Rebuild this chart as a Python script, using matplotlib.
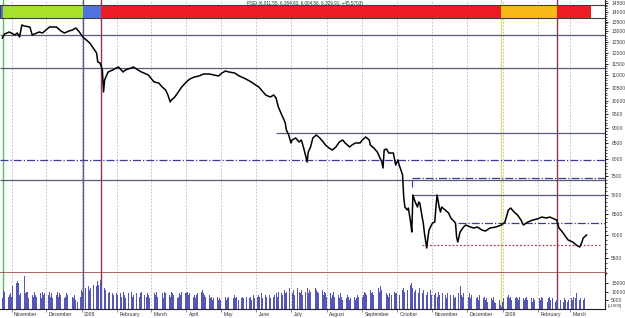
import numpy as np
import pandas as pd
import matplotlib
matplotlib.use("Agg")
import matplotlib.pyplot as plt
import matplotlib.dates as mdates
from matplotlib.ticker import FixedLocator, NullFormatter, FuncFormatter
from matplotlib.patches import Rectangle
from matplotlib.transforms import ScaledTranslation

# ---------------- data ----------------
price_dates = [
 "2007-10-24","2007-10-26","2007-10-30","2007-11-04","2007-11-06","2007-11-08","2007-11-10","2007-11-12",
 "2007-11-17","2007-11-19","2007-11-23","2007-11-25","2007-11-28","2007-12-04","2007-12-10","2007-12-14",
 "2007-12-17","2007-12-21","2007-12-24","2007-12-27","2007-12-30","2008-01-02","2008-01-05","2008-01-08",
 "2008-01-11","2008-01-14","2008-01-15","2008-01-17","2008-01-19","2008-01-20","2008-01-21","2008-01-22",
 "2008-01-24","2008-01-28","2008-01-31","2008-02-02","2008-02-06","2008-02-08","2008-02-13","2008-02-15",
 "2008-02-19","2008-02-22","2008-02-24","2008-02-28","2008-03-01","2008-03-04","2008-03-08","2008-03-11",
 "2008-03-14","2008-03-16","2008-03-18","2008-03-19","2008-03-22","2008-03-25","2008-03-28","2008-04-01",
 "2008-04-04","2008-04-08","2008-04-12","2008-04-16","2008-04-21","2008-04-25","2008-04-29","2008-05-02",
 "2008-05-05","2008-05-08","2008-05-13","2008-05-17","2008-05-21","2008-05-26","2008-05-30","2008-06-03",
 "2008-06-06","2008-06-09","2008-06-13","2008-06-16","2008-06-18","2008-06-20","2008-06-23","2008-06-25",
 "2008-06-26","2008-06-27","2008-06-29","2008-07-01","2008-07-02","2008-07-05","2008-07-08","2008-07-10",
 "2008-07-12","2008-07-14","2008-07-15","2008-07-16","2008-07-18","2008-07-20","2008-07-23","2008-07-26",
 "2008-07-29","2008-07-31","2008-08-03","2008-08-06","2008-08-09","2008-08-12","2008-08-15","2008-08-17",
 "2008-08-21","2008-08-23","2008-08-26","2008-08-30","2008-09-01","2008-09-04","2008-09-07","2008-09-08",
 "2008-09-11","2008-09-14","2008-09-16","2008-09-18","2008-09-19","2008-09-20","2008-09-22","2008-09-24",
 "2008-09-28","2008-09-30","2008-10-02","2008-10-03","2008-10-04","2008-10-06","2008-10-07","2008-10-08",
 "2008-10-10","2008-10-11","2008-10-13","2008-10-14","2008-10-15","2008-10-17","2008-10-19","2008-10-20",
 "2008-10-21","2008-10-23","2008-10-24","2008-10-25","2008-10-27","2008-10-28","2008-10-29","2008-11-01",
 "2008-11-03","2008-11-04","2008-11-05","2008-11-07","2008-11-08","2008-11-09","2008-11-12","2008-11-15",
 "2008-11-17","2008-11-21","2008-11-22","2008-11-23","2008-11-25","2008-11-28","2008-11-30","2008-12-04",
 "2008-12-07","2008-12-10","2008-12-14","2008-12-17","2008-12-21","2008-12-26","2008-12-31","2009-01-03",
 "2009-01-06","2009-01-08","2009-01-11","2009-01-14","2009-01-17","2009-01-19","2009-01-23","2009-01-27",
 "2009-01-31","2009-02-04","2009-02-08","2009-02-11","2009-02-13","2009-02-17","2009-02-19","2009-02-22",
 "2009-02-25","2009-02-27","2009-03-03","2009-03-06","2009-03-09","2009-03-11","2009-03-12","2009-03-15",
]
price_close = [
 12682,12876,12974,12827,12925,12730,13323,13273,
 13222,12827,12925,12974,12925,13222,13222,13023,
 12925,13023,13073,13172,12974,12730,12586,12443,
 12209,11980,11577,11533,11231,10331,10813,10937,
 11146,11231,11316,11359,11146,11231,11316,11359,
 11231,11146,11104,11020,10895,10731,10690,10529,
 10410,10214,9946,10022,10137,10331,10529,10731,
 10854,10937,10978,11062,11062,11020,10978,11104,
 11188,11146,11104,10978,10895,10772,10650,10529,
 10370,10214,10137,10214,10099,9759,9467,9289,
 9184,8943,8776,8513,8610,8677,8545,8610,
 8353,8072,7920,8227,8385,8677,8776,8677,
 8545,8449,8353,8289,8385,8545,8610,8513,
 8385,8449,8513,8513,8610,8710,8610,8449,
 8353,8227,8072,7920,7742,8289,8322,8195,
 8195,7831,7981,7831,7742,7539,6935,6677,
 6600,6651,6306,6071,6988,6804,6677,6804,
 6778,6427,6283,6048,5714,5934,6118,6283,
 6306,6677,6988,6651,6550,6677,6600,6526,
 6403,6283,5957,5845,6071,6188,6235,6188,
 6165,6188,6118,6094,6165,6188,6235,6306,
 6600,6651,6550,6476,6354,6235,6306,6354,
 6379,6427,6403,6427,6403,6354,6165,6071,
 5957,5890,5845,5779,5735,5845,5934,6002,
]

# daily volume (thousands), business days from 2007-10-24
volume_thousands = (
 [6, 11, 10, 7, 8, 9] +
 [7, 13, 15, 16, 15, 8, 9, 19, 9, 10, 10, 6, 8, 7, 10, 8, 7, 9, 6, 10, 8, 9] +
 [8, 10, 7, 9, 6, 8, 10, 7, 9, 8, 6, 7, 9, 8, 10, 7, 6, 8, 5, 4, 7] +
 [11, 10, 9, 12, 13, 11, 12, 10, 14, 13, 16, 14, 17, 13, 12, 11, 10, 9, 10, 9, 8, 10, 9] +
 [8, 9, 7, 10, 8, 6, 9, 8, 10, 7, 8, 9, 6, 7, 9, 10, 8, 7, 9, 8, 6] +
 [7, 9, 8, 10, 7, 8, 9, 6, 10, 9, 8, 7, 10, 9, 8, 6, 7, 9, 8, 10, 9] +
 [9, 10, 8, 9, 7, 8, 6, 8, 9, 10, 11, 9, 8, 7, 8, 6, 7, 5, 6, 7, 5, 6] +
 [5, 6, 7, 5, 6, 7, 5, 6, 8, 6, 7, 5, 6, 7, 6, 8, 7, 6, 7, 5, 8, 6] +
 [7, 8, 7, 9, 6, 8, 7, 10, 8, 6, 7, 8, 9, 7, 10, 9, 8, 11, 9, 10, 12] +
 [12, 9, 11, 8, 12, 10, 9, 11, 8, 10, 12, 9, 11, 10, 8, 12, 11, 10, 9, 11, 8, 10, 9] +
 [7, 9, 6, 8, 10, 7, 8, 6, 9, 7, 5, 6, 8, 7, 5, 6, 7, 5, 6, 8, 7] +
 [7, 8, 10, 9, 8, 11, 9, 10, 8, 9, 12, 10, 13, 11, 17, 9, 8, 7, 9, 8, 10, 9] +
 [9, 10, 8, 11, 12, 10, 13, 11, 14, 15, 12, 10, 11, 9, 12, 10, 9, 11, 8, 10, 9, 11, 8] +
 [8, 9, 7, 10, 8, 9, 7, 8, 6, 9, 8, 7, 8, 6, 7, 9, 13, 8, 7, 9] +
 [8, 7, 9, 6, 8, 7, 6, 7, 5, 8, 6, 7, 5, 6, 4, 6, 5, 7, 4, 3, 5, 2, 1] +
 [4, 6, 7, 8, 6, 7, 5, 6, 7, 6, 5, 7, 6, 5, 6, 7, 5, 6, 4, 6, 5, 6] +
 [6, 5, 7, 6, 5, 4, 6, 7, 5, 6, 4, 5, 6, 7, 5, 4, 6, 5, 4, 5] +
 [6, 5, 7, 6, 9, 5, 6, 7, 5, 6]
)

# top colour band segments
band_starts = ["2007-10-22", "2007-10-25", "2008-01-02", "2008-01-18", "2008-12-31", "2009-02-17", "2009-03-19"]
band_ends   = ["2007-10-25", "2008-01-02", "2008-01-18", "2008-12-31", "2009-02-17", "2009-03-19", "2009-03-31"]
band_colors = ["#4f74e0", "#a8e22a", "#4f74e0", "#ec1c24", "#fbb917", "#ec1c24", "#ffffff"]

# vertical event lines
vline_dates  = ["2007-10-25", "2008-01-02", "2008-01-18", "2008-12-31", "2009-02-17"]
vline_colors = ["#58c058", "#5a5a9a", "#8c3a4a", "#e6e070", "#8c3a4a"]

# horizontal levels: value, start date, style, color
hlevels = [
 (12827, "2007-10-22", "-",  "#5a5a7a"),
 (11330, "2007-10-22", "-",  "#5a5a7a"),
 (8831,  "2008-06-18", "-",  "#5a5a7a"),
 (7990,  "2007-10-22", "-.", "#3c3c90"),
 (7462,  "2008-10-14", "-.", "#3c3c90"),
 (7397,  "2007-10-22", "-",  "#5a5a7a"),
 (6988,  "2008-10-14", "-",  "#5a5a7a"),
 (6290,  "2008-11-23", "-.", "#3c3c90"),
]
support_level = 5773
support_start = "2008-10-23"

price_ticks = list(range(5500, 14501, 500))
vol_ticks = [5000, 10000, 15000]
month_names = {1: None, 2: "February", 3: "March", 4: "April", 5: "May", 6: "June", 7: "July",
               8: "August", 9: "September", 10: "October", 11: "November", 12: "December"}
title_text = "PSEi (6,011.55, 6,364.60, 6,004.56, 6,329.91, +45.5703)"

# ---------------- figure ----------------
W, H = 625, 318
fig = plt.figure(figsize=(W / 100, H / 100), dpi=100)
plt.rcParams["font.family"] = ["Liberation Sans", "DejaVu Sans"]

vol_bottom_px = 308.5
axp = fig.add_axes([0.0, 1 - 273 / H, 605 / W, 273 / H])
axv = fig.add_axes([0.0, 1 - vol_bottom_px / H, 605 / W, (vol_bottom_px - 273) / H], sharex=axp)

pdates = pd.to_datetime(price_dates)
vdates = pd.bdate_range("2007-10-24", periods=len(volume_thousands))
vols = np.array(volume_thousands) * 1000

xmin, xmax = pd.Timestamp("2007-10-22"), pd.Timestamp("2009-03-31")

# month gridlines and event lines
months = pd.date_range("2007-11-01", "2009-03-01", freq="MS")
for ax in (axp, axv):
    for m in months:
        ax.axvline(m, color="#b8b8b8", lw=0.6, ls=(0, (2, 2)), zorder=0)
    for d, c in zip(vline_dates, vline_colors):
        ax.axvline(pd.Timestamp(d), color=c, lw=1.0, zorder=1)

# horizontal levels
axp.set_yscale("log")
axp.set_ylim(5197, 14649)
axp.set_xlim(xmin, xmax)
for val, start, ls, col in hlevels:
    axp.hlines(val, pd.Timestamp(start), xmax, colors=col, linestyles=ls, lw=0.9, zorder=1)
axp.vlines(pd.Timestamp("2008-10-14"), 7200, 7462, colors="#3c3c90", linestyles="-.", lw=0.8)
axp.hlines(support_level, pd.Timestamp(support_start), pd.Timestamp("2009-03-27"),
           colors="#b04050", linestyles=(0, (1.5, 1.5)), lw=0.9, zorder=1)

# price line
axp.plot(pdates, price_close, color="black", lw=1.1, zorder=3)

# colour band at top
y0, y1 = (273 - 18) / 273, (273 - 5) / 273
for s, e, c in zip(band_starts, band_ends, band_colors):
    axp.axvspan(pd.Timestamp(s), pd.Timestamp(e), ymin=y0, ymax=y1, color=c, lw=0, zorder=4)
axp.add_patch(Rectangle((0, y0), 1, y1 - y0, transform=axp.transAxes, fill=False,
                        edgecolor="#404040", lw=0.8, zorder=5))

fig.text(247 / W, 1 - 3.5 / H, title_text, fontsize=3.3, color="#303030", va="center", ha="left")

# price axis styling
axp.yaxis.tick_right()
axp.yaxis.set_major_locator(FixedLocator(price_ticks))
axp.yaxis.set_major_formatter(FuncFormatter(lambda v, p: f"{int(v)}"))
axp.yaxis.set_minor_locator(FixedLocator([v for v in range(5200, 14700, 100) if v % 500]))
axp.yaxis.set_minor_formatter(NullFormatter())
axp.tick_params(axis="y", which="major", labelsize=3.6, labelcolor="#404040", length=2.5,
                width=0.6, pad=2, right=True, left=False)
axp.tick_params(axis="y", which="minor", length=1.5, width=0.5, right=True, left=False)
axp.tick_params(axis="x", which="both", bottom=False, labelbottom=False)
for sp in ("left", "top"):
    axp.spines[sp].set_visible(False)
axp.spines["right"].set_color("#202020")
axp.spines["right"].set_linewidth(0.8)
axp.spines["bottom"].set_color("#8b3a3a")
axp.spines["bottom"].set_linewidth(1.8)

# volume
axv.bar(vdates, vols, width=0.8, color="#5656b4", lw=0, zorder=2)
axv.set_ylim(0, (vol_bottom_px - 273) / 1.7 * 1000)
axv.yaxis.tick_right()
axv.yaxis.set_major_locator(FixedLocator(vol_ticks))
axv.yaxis.set_major_formatter(FuncFormatter(lambda v, p: f"{int(v)}"))
axv.tick_params(axis="y", labelsize=3.6, labelcolor="#404040", length=2.5, width=0.6, pad=2)
for sp in ("left", "top"):
    axv.spines[sp].set_visible(False)
axv.spines["right"].set_color("#202020")
axv.spines["right"].set_linewidth(0.8)
axv.spines["bottom"].set_color("#202020")
axv.spines["bottom"].set_linewidth(0.8)
fig.text(608 / W, 1 - 306 / H, "[x1000]", fontsize=3.2, color="#404040", va="center", ha="left")

axv.xaxis.set_major_locator(mdates.MonthLocator())
axv.xaxis.set_major_formatter(FuncFormatter(
    lambda v, p: (str(mdates.num2date(v).year) if mdates.num2date(v).month == 1
                  else month_names[mdates.num2date(v).month])))
axv.tick_params(axis="x", labelsize=3.6, labelcolor="#303030", length=2, width=0.5, pad=0.3,
                color="#606060")
offset = ScaledTranslation(0.025, 0, fig.dpi_scale_trans)
for lab in axv.get_xticklabels():
    lab.set_horizontalalignment("left")
    lab.set_transform(lab.get_transform() + offset)
axv.set_xlim(xmin, xmax)

fig.savefig("out.png", dpi=100)
